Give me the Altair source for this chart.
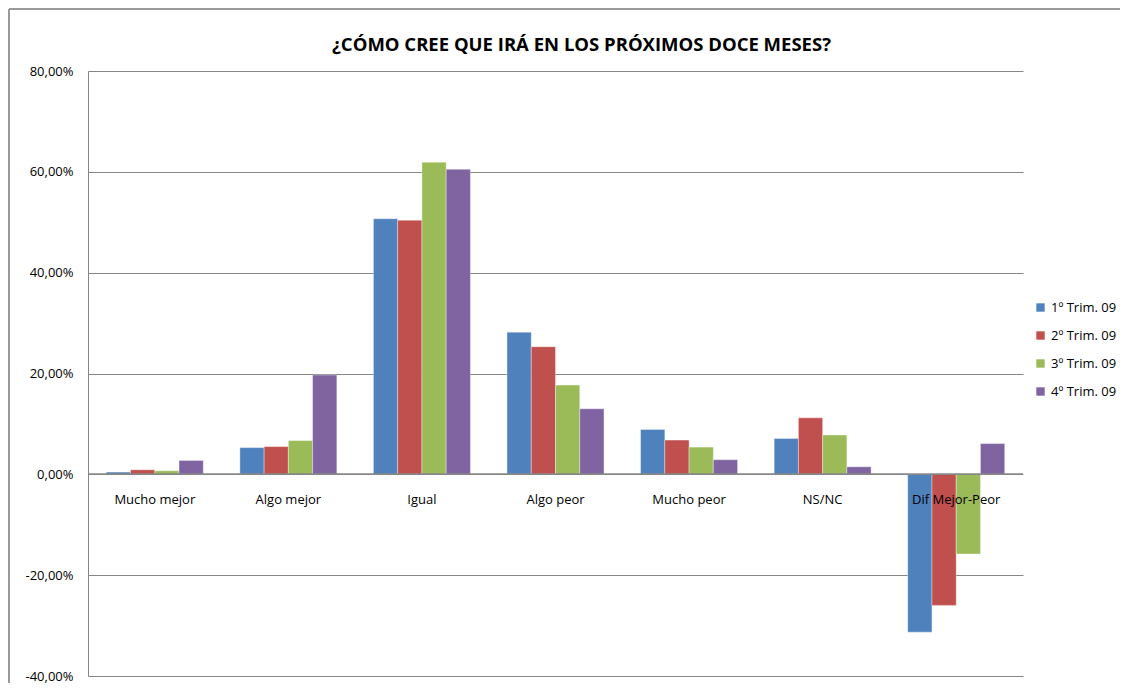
import altair as alt
import pandas as pd

categories = ["Mucho mejor", "Algo mejor", "Igual", "Algo peor", "Mucho peor", "NS/NC", "Dif Mejor-Peor"]
series = ["1º Trim. 09", "2º Trim. 09", "3º Trim. 09", "4º Trim. 09"]
t1 = [0.45, 5.3, 50.7, 28.2, 8.9, 7.1, -31.3]
t2 = [0.9, 5.5, 50.4, 25.3, 6.8, 11.2, -26.0]
t3 = [0.7, 6.7, 61.9, 17.7, 5.4, 7.8, -15.8]
t4 = [2.75, 19.7, 60.5, 13.0, 2.9, 1.5, 6.1]
colors = ["#4F81BD", "#C0504D", "#9BBB59", "#8064A2"]
y_ticks = [-40, -20, 0, 20, 40, 60, 80]

rows = []
for s, vals in zip(series, [t1, t2, t3, t4]):
    for c, v in zip(categories, vals):
        rows.append({"cat": c, "serie": s, "val": v})
df = pd.DataFrame(rows)
cat_df = pd.DataFrame({"cat": categories, "zero": [0] * len(categories)})

FONT = "Open Sans"

xscale = alt.Scale(domain=categories, paddingInner=0.274, paddingOuter=0.137)
yscale = alt.Scale(domain=[-40, 80], nice=False, zero=False)

bars = alt.Chart(df).mark_bar(stroke="#ffffff", strokeWidth=0.6, strokeOpacity=0.6).encode(
    x=alt.X("cat:N", scale=xscale, sort=categories, axis=None),
    xOffset=alt.XOffset("serie:N", sort=series, scale=alt.Scale(paddingInner=0, paddingOuter=0)),
    y=alt.Y(
        "val:Q",
        scale=yscale,
        axis=alt.Axis(
            values=y_ticks,
            title=None,
            grid=True,
            gridColor="#868686",
            gridWidth=1,
            domain=True,
            domainColor="#868686",
            ticks=False,
            labelPadding=15,
            labelFont=FONT,
            labelFontSize=13,
            labelColor="#000000",
            labelExpr="(datum.value < 0 ? '-' : '') + replace(format(abs(datum.value), '.2f'), '.', ',') + '%'",
        ),
    ),
    color=alt.Color(
        "serie:N",
        sort=series,
        scale=alt.Scale(domain=series, range=colors),
        legend=alt.Legend(
            title=None,
            orient="none",
            legendX=946,
            legendY=230,
            symbolType="square",
            symbolSize=70,
            symbolStrokeWidth=0,
            labelFont=FONT,
            labelFontSize=13,
            labelColor="#000000",
            rowPadding=14,
            labelOffset=4,
        ),
    ),
)

zero_line = alt.Chart(cat_df).mark_rule(color="#868686", strokeWidth=1).encode(
    y=alt.Y("zero:Q", scale=yscale)
)

labels = alt.Chart(cat_df).mark_text(
    font=FONT, fontSize=13, color="#000000", dy=26, baseline="middle"
).encode(
    x=alt.X("cat:N", scale=xscale, sort=categories, axis=None),
    y=alt.Y("zero:Q", scale=yscale),
    text="cat:N",
)

frame_top = alt.Chart(cat_df).mark_rule(stroke="#9a9a9a", strokeWidth=1.5).encode(
    x=alt.value(-79), x2=alt.value(1032), y=alt.value(-62)
)
frame_left = alt.Chart(cat_df).mark_rule(stroke="#9a9a9a", strokeWidth=1.5).encode(
    x=alt.value(-79), y=alt.value(-62), y2=alt.value(612)
)

chart = alt.layer(frame_top, frame_left, bars, zero_line, labels).properties(
    width=935,
    height=605,
    autosize=alt.AutoSizeParams(type="none"),
    padding={"left": 80, "top": 63, "right": 97, "bottom": 7},
    title=alt.TitleParams(
        "¿CÓMO CREE QUE IRÁ EN LOS PRÓXIMOS DOCE MESES?",
        font=FONT,
        fontSize=18.5,
        fontWeight="bold",
        color="#000000",
        anchor="middle",
        frame="group",
        offset=-46,
        dx=26,
    ),
).configure_view(stroke=None)

chart.save("out.html", embed_options={"renderer": "svg", "actions": False})
